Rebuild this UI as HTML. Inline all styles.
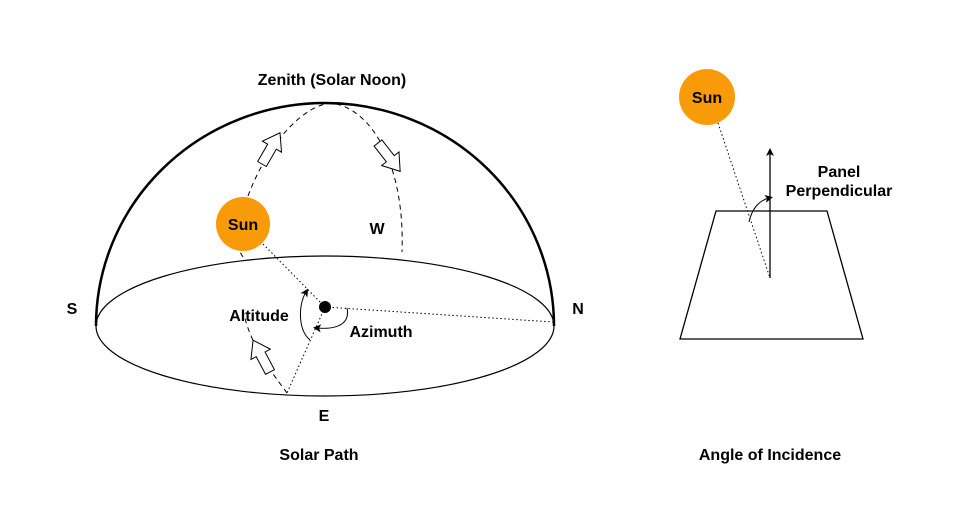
<!DOCTYPE html>
<html><head><style>body{margin:0;background:#fff}svg{display:block}text{font-family:"Liberation Sans",sans-serif;font-weight:bold;font-size:16px;fill:#000}</style></head>
<body>
<svg width="959" height="516" viewBox="0 0 959 516">
<defs>
<marker id="ah" markerWidth="8" markerHeight="8" refX="4" refY="4" orient="auto" markerUnits="userSpaceOnUse"><path d="M0,0 L8,4 L0,8 L2,4 Z" fill="#000"/></marker>
</defs>
<ellipse cx="325" cy="326" rx="229" ry="70" fill="none" stroke="#000" stroke-width="1.2"/>
<path d="M96,326 A229,223 0 0 1 554,326" fill="none" stroke="#000" stroke-width="2.5"/>
<path d="M287,393 C270,370 250,345 243,310 M243,257 L240,252 M248,196 C265,150 300,105 332,103 C375,110 405,170 402,252" fill="none" stroke="#000" stroke-width="1" stroke-dasharray="5,4"/>
<path d="M0,-5 L20,-5 L20,-11 L36,0 L20,11 L20,5 L0,5 Z" transform="translate(262,164) rotate(-60)" fill="#fff" stroke="#000"/>
<path d="M0,-5 L20,-5 L20,-11 L36,0 L20,11 L20,5 L0,5 Z" transform="translate(378,143) rotate(52)" fill="#fff" stroke="#000"/>
<path d="M0,-5 L20,-5 L20,-11 L36,0 L20,11 L20,5 L0,5 Z" transform="translate(270,372) rotate(-118)" fill="#fff" stroke="#000"/>
<path d="M263,244 L325,307 L553,322 M325,307 L287,393" fill="none" stroke="#000" stroke-width="1" stroke-dasharray="1.5,2.5"/>
<circle cx="325" cy="307" r="6" fill="#000"/>
<path d="M310,340 C298,330 298,305 306,292" fill="none" stroke="#000" marker-end="url(#ah)"/>
<path d="M347,308 C350,322 340,330 317,328" fill="none" stroke="#000" marker-end="url(#ah)"/>
<circle cx="243" cy="224" r="27" fill="#f99b08"/>
<text x="243" y="230" text-anchor="middle">Sun</text>
<text x="332" y="85" text-anchor="middle">Zenith (Solar Noon)</text>
<text x="377" y="234" text-anchor="middle">W</text>
<text x="72" y="314" text-anchor="middle">S</text>
<text x="578" y="314" text-anchor="middle">N</text>
<text x="324" y="421" text-anchor="middle">E</text>
<text x="259" y="321" text-anchor="middle">Altitude</text>
<text x="381" y="337" text-anchor="middle">Azimuth</text>
<text x="319" y="460" text-anchor="middle">Solar Path</text>
<path d="M716,211 L827,211 L863,339 L680,339 Z" fill="none" stroke="#000" stroke-width="1.3"/>
<path d="M718,123 L770,278" stroke="#000" stroke-dasharray="1.5,2.5"/>
<path d="M770,278 L770,152" stroke="#000" stroke-width="1.3" marker-end="url(#ah)"/>
<path d="M749,222 C752,208 760,200 769,198" fill="none" stroke="#000" marker-end="url(#ah)"/>
<circle cx="707" cy="97" r="28" fill="#f99b08"/>
<text x="707" y="103" text-anchor="middle">Sun</text>
<text x="839" y="177" text-anchor="middle">Panel</text>
<text x="839" y="196" text-anchor="middle">Perpendicular</text>
<text x="770" y="460" text-anchor="middle">Angle of Incidence</text>
</svg>
</body></html>
